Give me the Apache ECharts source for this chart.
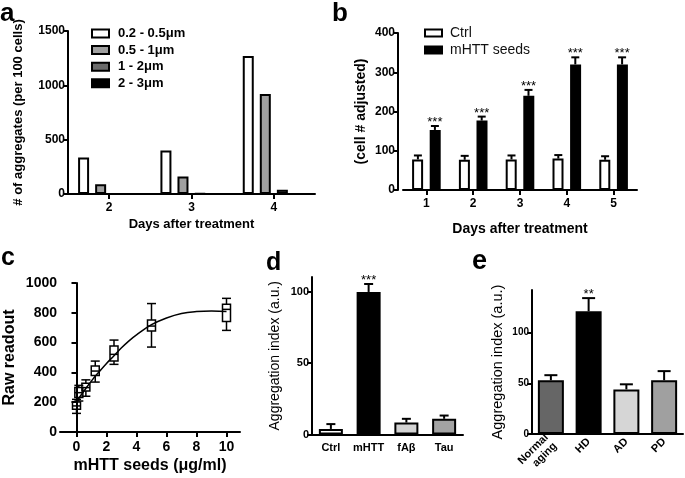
<!DOCTYPE html>
<html><head><meta charset="utf-8">
<script src="https://cdn.jsdelivr.net/npm/echarts@6/dist/echarts.min.js"></script>
<style>html,body{margin:0;padding:0;background:#fff}#c{width:685px;height:478px}</style>
</head><body><div id="c"></div><script>
// ---- Panel a ----
const aDays = ['2', '3', '4'];
const aSizes = ['0.2 - 0.5μm', '0.5 - 1μm', '1 - 2μm', '2 - 3μm'];
const aSmall = [335, 400, 1270];
const aMid = [90, 160, 920];
const aLarge = [0, 5, 40];
const aHuge = [0, 0, 0];
// ---- Panel b ----
const bDays = ['1', '2', '3', '4', '5'];
const bCtrl = [78, 77, 78, 80, 77];
const bCtrlErr = [88, 87, 88, 89, 86];
const bSeeds = [153, 177, 240, 320, 320];
const bSeedsErr = [163, 187, 255, 338, 338];
const bStars = ['***', '***', '***', '***', '***'];
// ---- Panel c ----
const cX = [0, 0.156, 0.625, 1.25, 2.5, 5, 10];
const cMin = [125, 208, 240, 335, 454, 570, 682];
const cQ1 = [152, 231, 275, 380, 477, 678, 741];
const cMed = [175, 264, 298, 409, 521, 711, 823];
const cQ3 = [201, 298, 327, 443, 577, 752, 857];
const cMax = [219, 313, 350, 476, 617, 862, 897];
const cFitX = [0, 0.5, 1, 1.5, 2, 2.5, 3, 3.5, 4, 5, 6, 7, 8, 9, 10];
const cFitY = [205, 275, 343, 403, 460, 512, 565, 612, 652, 720, 765, 795, 808, 812, 809];
const cXTicks = [0, 2, 4, 6, 8, 10];
// ---- Panel d ----
const dCats = ['Ctrl', 'mHTT', 'fAβ', 'Tau'];
const dVals = [3.9, 100, 8.4, 11];
const dErr = [7.3, 105.6, 11, 13.3];
const dStars = ['', '***', '', ''];
const dYTicks = [0, 50, 100];
// ---- Panel e ----
const eCats = ['Normal\naging', 'HD', 'AD', 'PD'];
const eVals = [53, 121, 44, 53];
const eErr = [58, 134, 49, 62];
const eStars = ['', '**', '', ''];
const eYTicks = [0, 50, 100];

// ---- styles ----
const FONT = "'Liberation Sans', Arial, sans-serif";
const aColors = ['#ffffff', '#a0a0a0', '#6b6b6b', '#000000'];
const dColors = ['#ffffff', '#000000', '#d3d3d3', '#a3a3a3'];
const eColors = ['#666666', '#000000', '#d6d6d6', '#a0a0a0'];
const AX = { show: true, lineStyle: { color: '#000', width: 2 } };
const TK = { show: true, length: 5, lineStyle: { color: '#000', width: 2 } };
const plain = v => String(v);

function yAxis(gi, max, interval, name, nameSize, nameWeight, labelSize, gap, extra, customTicks) {
  const ax = Object.assign({
    type: 'value', gridIndex: gi, min: 0, max: max, interval: interval,
    axisLine: AX, axisTick: Object.assign({}, TK), splitLine: { show: false },
    axisLabel: { color: '#000', fontFamily: FONT, fontWeight: 'bold', fontSize: labelSize, margin: 3, formatter: plain },
    name: name, nameLocation: 'middle', nameGap: gap,
    nameTextStyle: { color: '#000', fontFamily: FONT, fontWeight: nameWeight, fontSize: nameSize }
  }, extra || {});
  if (customTicks) {
    ax.axisTick.customValues = customTicks;
    ax.axisLabel.customValues = customTicks;
  }
  return ax;
}
function catAxis(gi, data, showTick, labelSize, name, nameSize, gap, extraLabel) {
  return {
    type: 'category', gridIndex: gi, data: data,
    axisLine: AX,
    axisTick: Object.assign({}, TK, { show: showTick, alignWithLabel: true }),
    axisLabel: Object.assign({ color: '#000', fontFamily: FONT, fontWeight: 'bold', fontSize: labelSize, margin: 8, interval: 0 }, extraLabel || {}),
    name: name || '', nameLocation: 'middle', nameGap: gap || 20,
    nameTextStyle: { color: '#000', fontFamily: FONT, fontWeight: 'bold', fontSize: nameSize || 12 }
  };
}
function errSeries(gi, vals, errs, stars, dx, cap, starSize) {
  return {
    type: 'custom', xAxisIndex: gi, yAxisIndex: gi, z: 3, silent: true,
    data: vals.map((v, i) => [i, v, errs[i]]),
    renderItem(params, api) {
      const i = api.value(0);
      const p0 = api.coord([i, api.value(1)]);
      const p1 = api.coord([i, api.value(2)]);
      const x = p0[0] + dx;
      const ch = [
        { type: 'line', shape: { x1: x, y1: p0[1], x2: x, y2: p1[1] }, style: { stroke: '#000', lineWidth: 2 } },
        { type: 'line', shape: { x1: x - cap / 2, y1: p1[1], x2: x + cap / 2, y2: p1[1] }, style: { stroke: '#000', lineWidth: 2 } }
      ];
      const s = stars[params.dataIndex];
      if (s) ch.push({ type: 'text', x: x, y: p1[1] + 3, style: { text: s, fill: '#000', font: starSize + 'px ' + FONT, align: 'center', verticalAlign: 'bottom' } });
      return { type: 'group', children: ch };
    }
  };
}

const aSeriesVals = [aSmall, aMid, aLarge, aHuge];
const series = [];
aSizes.forEach((nm, k) => series.push({
  type: 'bar', name: nm, xAxisIndex: 0, yAxisIndex: 0, data: aSeriesVals[k],
  barWidth: 11, barGap: '55%',
  itemStyle: { color: aColors[k], borderColor: '#000', borderWidth: 2 }
}));
series.push({ type: 'bar', name: 'Ctrl', xAxisIndex: 1, yAxisIndex: 1, data: bCtrl, barWidth: 11, barGap: '60%',
  itemStyle: { color: '#fff', borderColor: '#000', borderWidth: 2 } });
series.push({ type: 'bar', name: 'mHTT seeds', xAxisIndex: 1, yAxisIndex: 1, data: bSeeds, barWidth: 11, barGap: '60%',
  itemStyle: { color: '#000', borderColor: '#000', borderWidth: 2 } });
series.push(errSeries(1, bCtrl, bCtrlErr, ['', '', '', '', ''], -8.5, 8, 13));
series.push(errSeries(1, bSeeds, bSeedsErr, bStars, 8.5, 8, 13));
// panel c
series.push({ type: 'line', xAxisIndex: 2, yAxisIndex: 2, data: cFitX.map((x, i) => [x, cFitY[i]]),
  smooth: 0.4, showSymbol: false, symbol: 'none', lineStyle: { color: '#000', width: 1.5 }, silent: true, z: 2 });
series.push({
  type: 'custom', xAxisIndex: 2, yAxisIndex: 2, silent: true, z: 3,
  data: cX.map((x, i) => [x, cMin[i], cQ1[i], cMed[i], cQ3[i], cMax[i]]),
  renderItem(params, api) {
    const x = api.value(0);
    const pMin = api.coord([x, api.value(1)]), pQ1 = api.coord([x, api.value(2)]),
      pMed = api.coord([x, api.value(3)]), pQ3 = api.coord([x, api.value(4)]), pMax = api.coord([x, api.value(5)]);
    const cx = pMin[0], w = 8, cw = 9;
    const st = { stroke: '#000', lineWidth: 1.5, fill: null };
    return { type: 'group', children: [
      { type: 'line', shape: { x1: cx, y1: pMin[1], x2: cx, y2: pQ1[1] }, style: st },
      { type: 'line', shape: { x1: cx, y1: pQ3[1], x2: cx, y2: pMax[1] }, style: st },
      { type: 'line', shape: { x1: cx - cw / 2, y1: pMin[1], x2: cx + cw / 2, y2: pMin[1] }, style: st },
      { type: 'line', shape: { x1: cx - cw / 2, y1: pMax[1], x2: cx + cw / 2, y2: pMax[1] }, style: st },
      { type: 'rect', shape: { x: cx - w / 2, y: pQ3[1], width: w, height: pQ1[1] - pQ3[1] }, style: st },
      { type: 'line', shape: { x1: cx - w / 2, y1: pMed[1], x2: cx + w / 2, y2: pMed[1] }, style: st }
    ] };
  }
});
// panel d
series.push({ type: 'bar', xAxisIndex: 3, yAxisIndex: 3, barWidth: 24,
  data: dVals.map((v, i) => ({ value: v, itemStyle: { color: dColors[i] } })),
  itemStyle: { borderColor: '#000', borderWidth: 2 } });
series.push(errSeries(3, dVals, dErr, dStars, 0, 9, 13));
// panel e
series.push({ type: 'bar', xAxisIndex: 4, yAxisIndex: 4, barWidth: 26,
  data: eVals.map((v, i) => ({ value: v, itemStyle: { color: eColors[i] } })),
  itemStyle: { borderColor: '#000', borderWidth: 2 } });
series.push(errSeries(4, eVals, eErr, eStars, 0, 13, 13));

const letter = (t, x, y, size) => ({ type: 'text', x: x, y: y,
  style: { text: t, fill: '#000', font: 'bold ' + size + 'px ' + FONT, verticalAlign: 'bottom' } });

const option = {
  animation: false,
  backgroundColor: '#fff',
  grid: [
    { left: 68, top: 31, width: 247, height: 163 },
    { left: 403, top: 33, width: 234, height: 157 },
    { left: 60, top: 283, width: 180, height: 149 },
    { left: 312, top: 277, width: 151, height: 157.5 },
    { left: 532, top: 290, width: 151, height: 144 }
  ],
  legend: [
    { data: aSizes, orient: 'vertical', left: 86, top: 22, itemWidth: 17, itemHeight: 8, itemGap: 3.6, icon: 'rect',
      textStyle: { color: '#000', fontFamily: FONT, fontWeight: 'bold', fontSize: 13, lineHeight: 13, padding: [0, 0, 0, 4] } },
    { data: ['Ctrl', 'mHTT seeds'], orient: 'vertical', left: 419, top: 21, itemWidth: 17, itemHeight: 7, itemGap: 3, icon: 'rect',
      textStyle: { color: '#111', fontFamily: FONT, fontSize: 14, lineHeight: 14, padding: [0, 0, 0, 3] } }
  ],
  xAxis: [
    catAxis(0, aDays, true, 12, 'Days after treatment', 13, 24),
    catAxis(1, bDays, true, 12, 'Days after treatment', 14, 32),
    {
      type: 'value', gridIndex: 2, min: -1.1, max: 10.9,
      axisLine: AX, splitLine: { show: false },
      axisTick: Object.assign({}, TK, { customValues: cXTicks }),
      axisLabel: { customValues: cXTicks, color: '#000', fontFamily: FONT, fontWeight: 'bold', fontSize: 14, margin: 8, formatter: plain },
      name: 'mHTT seeds (μg/ml)', nameLocation: 'middle', nameGap: 26,
      nameTextStyle: { color: '#000', fontFamily: FONT, fontWeight: 'bold', fontSize: 16 }
    },
    catAxis(3, dCats, false, 11, '', 11, 20),
    catAxis(4, eCats, false, 11, '', 11, 20, { rotate: 45, margin: 6, lineHeight: 12 })
  ],
  yAxis: [
    yAxis(0, 1500, 500, '# of aggregates (per 100 cells)', 13, 'bold', 12, 43),
    yAxis(1, 400, 100, '(cell # adjusted)', 14, 'bold', 12, 30, { offset: 5 }),
    yAxis(2, 1000, 200, 'Raw readout', 16, 'bold', 14, 42),
    yAxis(3, 110.5, 50, 'Aggregation index (a.u.)', 14, 'normal', 11, 30, null, dYTicks),
    yAxis(4, 142, 50, 'Aggregation index (a.u.)', 14.5, 'normal', 10, 27, null, eYTicks)
  ],
  graphic: [
    letter('a', 0, 27, 26),
    letter('b', 332, 27, 26),
    letter('c', 1, 271, 25),
    letter('d', 266, 276, 25),
    letter('e', 472, 275, 27)
  ],
  series: series
};
const chart = echarts.init(document.getElementById('c'), null, { renderer: 'canvas' });
chart.setOption(option);
</script></body></html>
